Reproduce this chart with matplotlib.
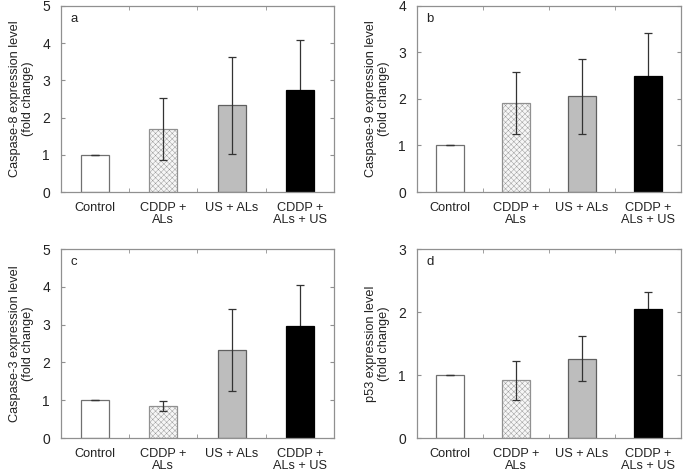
import matplotlib
matplotlib.use("Agg")
import matplotlib.pyplot as plt
import numpy as np

plt.rcParams['font.family'] = ['Liberation Sans', 'DejaVu Sans']
plt.rcParams['hatch.linewidth'] = 0.3
plt.rcParams['hatch.color'] = '#e2e2e2'

categories = ["Control", "CDDP +\nALs", "US + ALs", "CDDP +\nALs + US"]

casp8_mean = [1.0, 1.70, 2.33, 2.74]
casp8_err = [0.0, 0.83, 1.31, 1.34]
casp9_mean = [1.0, 1.91, 2.06, 2.50]
casp9_err = [0.0, 0.67, 0.81, 0.93]
casp3_mean = [1.0, 0.84, 2.33, 2.96]
casp3_err = [0.0, 0.13, 1.09, 1.08]
p53_mean = [1.0, 0.92, 1.26, 2.05]
p53_err = [0.0, 0.31, 0.36, 0.26]

panels = [
    ("a", "Caspase-8 expression level\n(fold change)", casp8_mean, casp8_err, 5),
    ("b", "Caspase-9 expression level\n(fold change)", casp9_mean, casp9_err, 4),
    ("c", "Caspase-3 expression level\n(fold change)", casp3_mean, casp3_err, 5),
    ("d", "p53 expression level\n(fold change)", p53_mean, p53_err, 3),
]

W, H = 683, 473
fig = plt.figure(figsize=(W / 100, H / 100), dpi=100)

boxes = [(61, 6, 334, 192), (417, 6, 681, 192), (61, 249, 334, 438), (417, 249, 681, 438)]

faces = ['white', '#f6f6f6', '#bdbdbd', 'black']
hatches = [None, 'xxxxxx', None, None]
edges = ['#707070', '#909090', '#606060', 'black']
err_z = [3, 3, 3, 1]
spine_c = '#909090'

for (letter, ylabel, means, errs, ymax), (l, t, r, b) in zip(panels, boxes):
    ax = fig.add_axes([l / W, 1 - b / H, (r - l) / W, (b - t) / H])
    x = np.arange(len(categories))
    for i in range(len(categories)):
        ax.bar(x[i], means[i], width=0.41, color=faces[i], edgecolor=edges[i],
               hatch=hatches[i], linewidth=0.9, zorder=2)
        ax.errorbar(x[i], means[i], yerr=errs[i], fmt='none', ecolor='#333333',
                    elinewidth=0.9, capsize=3, capthick=0.9, zorder=err_z[i])
    ax.set_xlim(-0.5, 3.5)
    ax.set_ylim(0, ymax)
    ax.set_yticks(range(ymax + 1))
    ax.set_xticks(x)
    ax.set_xticklabels(categories, fontsize=9.2, color='#222222', linespacing=1.0)
    ax.set_xticks([0.5, 1.5, 2.5], minor=True)
    ax.tick_params(axis='x', which='major', length=0, pad=7)
    ax.tick_params(axis='x', which='minor', direction='in', length=3, top=True,
                   bottom=True, color=spine_c)
    ax.tick_params(axis='y', direction='in', length=3, right=True, color=spine_c,
                   labelsize=10, labelcolor='#222222', pad=8)
    for s in ax.spines.values():
        s.set_color(spine_c)
        s.set_linewidth(0.9)
    ax.set_ylabel(ylabel, fontsize=9.2, color='#222222', labelpad=6, linespacing=1.05)
    ax.text(0.035, 0.93, letter, transform=ax.transAxes, fontsize=9.5,
            color='#222222', va='center', ha='left')

fig.savefig("out.png", dpi=100)
